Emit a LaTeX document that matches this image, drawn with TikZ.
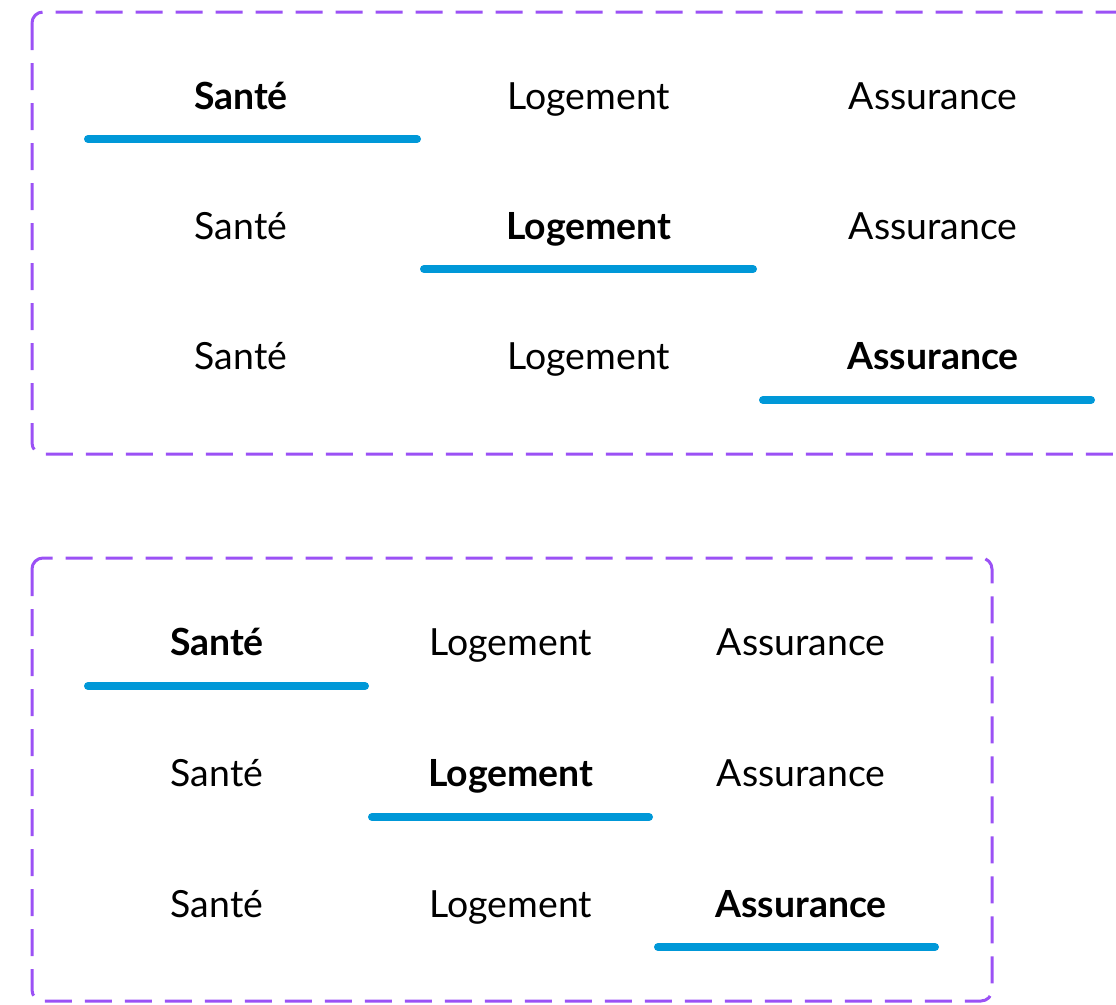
\documentclass[tikz,border=0pt]{standalone}
\usepackage{fontspec}
\setmainfont{Lato}
\usetikzlibrary{shapes}
\definecolor{boxpurple}{HTML}{9B51F5}
\definecolor{tabblue}{HTML}{0098D8}
\tikzstyle{tab} = [anchor=base,inner sep=0pt,font=\fontsize{37.4}{44}\selectfont]

\begin{document}
\begin{tikzpicture}
		[x=1pt,y=-1pt,
		frame/.style={
		draw=boxpurple,
		line width=3pt,
		dash pattern=on 27pt off 13pt,
		rounded corners=11pt},
		active/.style={tab,font=\fontsize{37.4}{44}\selectfont\bfseries},
		bar/.style={draw=tabblue,line width=8pt,line cap=round}
		]
		\useasboundingbox (0,0) rectangle (1116,1004);
		\clip (0,0) rectangle (1116,1004);
		% wide tabs
		\draw[frame] (32,12) rectangle (1148,454);
		\node[active] (wsante1) at (241,109) {Santé};
		\node[tab] (wlog1) at (589,109) {Logement};
		\node[tab] (wass1) at (933,109) {Assurance};
		\node[tab] (wsante2) at (241,239) {Santé};
		\node[active] (wlog2) at (589,239) {Logement};
		\node[tab] (wass2) at (933,239) {Assurance};
		\node[tab] (wsante3) at (241,369) {Santé};
		\node[tab] (wlog3) at (589,369) {Logement};
		\node[active] (wass3) at (933,369) {Assurance};
		\draw[bar] (88,139) -- (417,139);
		\draw[bar] (424,269) -- (753,269);
		\draw[bar] (763,400) -- (1091,400);
		% narrow tabs
		\draw[frame] (32,558) rectangle (992,1001);
		\node[active] (nsante1) at (217,655) {Santé};
		\node[tab] (nlog1) at (511,655) {Logement};
		\node[tab] (nass1) at (801,655) {Assurance};
		\node[tab] (nsante2) at (217,786) {Santé};
		\node[active] (nlog2) at (511,786) {Logement};
		\node[tab] (nass2) at (801,786) {Assurance};
		\node[tab] (nsante3) at (217,917) {Santé};
		\node[tab] (nlog3) at (511,917) {Logement};
		\node[active] (nass3) at (801,917) {Assurance};
		\draw[bar] (88,686) -- (365,686);
		\draw[bar] (372,817) -- (649,817);
		\draw[bar] (658,947) -- (935,947);
\end{tikzpicture}
\end{document}
